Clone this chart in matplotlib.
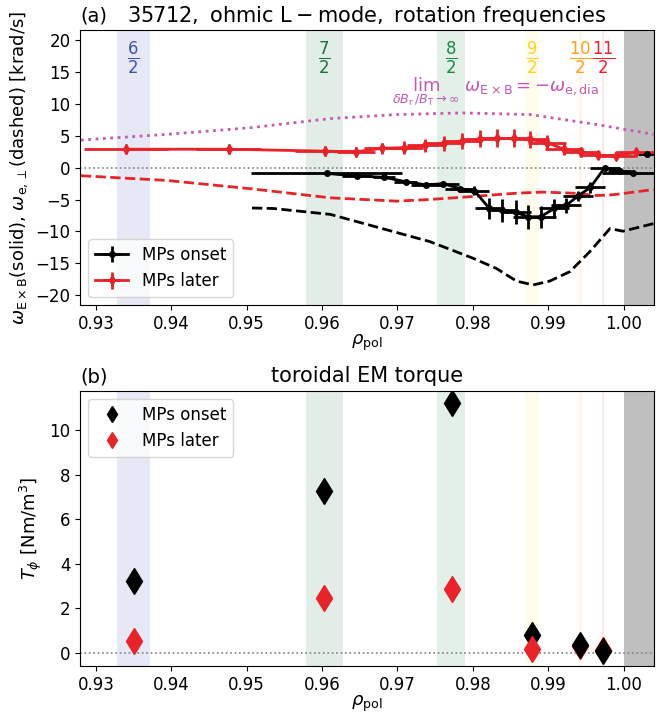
import matplotlib
matplotlib.use('Agg')
import matplotlib.pyplot as plt

# rational surfaces q = m/2: (label, rho_min, rho_max, colour)
modes = ['6', '7', '8', '9', '10', '11']
mode_lo = [0.9328, 0.9578, 0.9753, 0.9869, 0.9941, 0.99714]
mode_hi = [0.9372, 0.9628, 0.9790, 0.9888, 0.99448, 0.99742]
mode_col = ['#3f51b5', '#1b6e3a', '#1a8a44', '#ffd21a', '#ffa020', '#ee2030']
mode_alpha = [0.13, 0.12, 0.12, 0.08, 0.1, 0.1]

# (a) E x B rotation, MPs onset
rho_on = [0.9606, 0.9646, 0.9682, 0.9711, 0.9738, 0.9761, 0.9783, 0.9802, 0.9822, 0.9839,
          0.9857, 0.9873, 0.9890, 0.9908, 0.9924, 0.9940, 0.9956, 0.9975, 0.9995, 1.0012]
w_on = [-0.9, -1.3, -1.5, -2.2, -2.7, -2.5, -3.3, -3.6, -6.4, -6.7,
        -7.0, -7.7, -7.7, -6.4, -5.9, -4.4, -3.1, 0.0, -0.5, -0.8]
xerr_on = [0.010, 0.002, 0.0015, 0.0015, 0.002, 0.002, 0.002, 0.002, 0.0019, 0.002,
           0.002, 0.002, 0.002, 0.002, 0.002, 0.002, 0.002, 0.002, 0.0015, 0.004]
yerr_on = [0.3, 0.3, 0.3, 0.3, 0.4, 0.3, 0.3, 0.65, 1.7, 1.8,
           1.9, 1.9, 1.7, 1.55, 1.2, 0.8, 0.8, 0.3, 0.3, 0.3]
rho_on_edge = [1.0031]
w_on_edge = [2.2]

# (a) E x B rotation, MPs later
rho_la = [0.9340, 0.9476, 0.9604, 0.9645, 0.9680, 0.9709, 0.9737, 0.9762, 0.9786, 0.9810,
          0.9832, 0.9854, 0.9876, 0.9898, 0.9921, 0.9944, 0.9966, 0.9990, 1.0016]
w_la = [2.9, 2.9, 2.6, 2.5, 3.05, 3.15, 3.5, 3.8, 4.2, 4.55,
        4.6, 4.6, 4.45, 3.95, 2.9, 2.5, 1.95, 1.85, 2.4]
xerr_la = [0.0056, 0.0043, 0.004, 0.0025, 0.0025, 0.0025, 0.0025, 0.0025, 0.0025, 0.0025,
           0.0025, 0.0025, 0.0025, 0.0025, 0.0025, 0.0025, 0.0025, 0.0025, 0.0025]
yerr_la = [0.8, 0.8, 0.8, 0.8, 0.9, 1.0, 1.0, 1.2, 1.2, 1.3,
           1.4, 1.4, 1.3, 1.2, 0.9, 0.8, 0.6, 0.6, 0.6]

# perpendicular electron rotation (dashed) and diamagnetic limit (dotted)
rho_perp_on = [0.9507, 0.9535, 0.9611, 0.9743, 0.9800, 0.9831, 0.9858, 0.9880, 0.9902,
               0.9929, 0.9955, 0.9982, 0.9999, 1.0040]
w_perp_on = [-6.33, -6.4, -7.33, -11.6, -14.2, -15.8, -17.8, -18.4, -17.8,
             -16.3, -13.2, -9.55, -9.97, -8.77]
rho_perp_la = [0.9280, 0.9394, 0.9505, 0.9611, 0.9699, 0.9743, 0.9800, 0.9858, 0.9893,
               0.9933, 0.9964, 0.9986, 1.0040]
w_perp_la = [-1.26, -2.0, -3.3, -4.73, -5.25, -4.99, -4.52, -4.0, -3.83,
             -4.0, -4.37, -4.25, -3.43]
rho_dia = [0.9280, 0.9394, 0.9505, 0.9611, 0.9699, 0.9787, 0.9876, 0.9964, 1.0040]
w_dia = [4.34, 5.23, 6.27, 7.71, 8.34, 8.6, 8.34, 6.78, 5.23]

# (b) toroidal EM torque at the rational surfaces
rho_tq = [0.9350, 0.9603, 0.9772, 0.9879, 0.9942, 0.9973]
tq_on = [3.22, 7.25, 11.2, 0.79, 0.34, 0.08]
tq_la = [0.55, 2.48, 2.88, 0.19, 0.30, 0.14]

red = '#e8232a'
purple = '#c45ab3'

fig, (ax1, ax2) = plt.subplots(2, 1, figsize=(6.57, 7.16), dpi=100)
fig.subplots_adjust(left=0.122, right=0.995, top=0.958, bottom=0.07, hspace=0.31)

for ax in (ax1, ax2):
    for lo, hi, c, a in zip(mode_lo, mode_hi, mode_col, mode_alpha):
        ax.axvspan(lo, hi, color=c, alpha=a, lw=0)
    ax.axvspan(1.0, 1.01, color='grey', alpha=0.5, lw=0)
    ax.axhline(0, color='grey', ls=':', lw=1.2)
    ax.set_xlim(0.9279, 1.004)
    ax.set_xlabel(r'$\rho_\mathrm{pol}$', fontsize=13, labelpad=0)
    ax.tick_params(labelsize=12)

# panel (a)
ax1.plot(rho_perp_la, w_perp_la, color=red, ls='--', lw=2)
ax1.plot(rho_perp_on, w_perp_on, color='k', ls='--', lw=2)
ax1.plot(rho_dia, w_dia, color=purple, ls=':', lw=2)
ax1.errorbar(rho_on, w_on, xerr=xerr_on, yerr=yerr_on, fmt='-o', color='k',
             ms=4, lw=2, elinewidth=2, label='MPs onset')
ax1.errorbar(rho_on_edge, w_on_edge, xerr=[0.0012], yerr=[0.3], fmt='o', color='k',
             ms=4, elinewidth=2)
ax1.errorbar(rho_la, w_la, xerr=xerr_la, yerr=yerr_la, fmt='-d', color=red,
             ms=5, lw=2, elinewidth=2, label='MPs later')
for m, lo, hi, c in zip(modes, mode_lo, mode_hi, mode_col):
    ax1.text((lo + hi) / 2, 17.2, r'$\frac{%s}{2}$' % m, color=c, fontsize=17,
             ha='center', va='center')
ax1.text(0.9830, 11.9,
         r'$\lim_{\delta B_\mathrm{r}/B_\mathrm{T}\to\infty}\ \omega_\mathrm{E\times B} = -\omega_\mathrm{e,dia}$',
         color=purple, fontsize=13, ha='center', va='center')
ax1.set_ylim(-21.6, 21.6)
ax1.set_yticks([-20, -15, -10, -5, 0, 5, 10, 15, 20])
ax1.set_ylabel(r'$\omega_\mathrm{E\times B}$(solid), $\omega_\mathrm{e,\perp}$(dashed) [krad/s]', fontsize=13)
ax1.set_title('(a)', loc='left', fontsize=14)
ax1.set_title(r'$35712,\ \mathrm{ohmic\ L-mode,\ rotation\ frequencies}$', fontsize=15)
ax1.legend(loc='lower left', fontsize=12)

# panel (b)
ax2.plot(rho_tq[:4], tq_on[:4], 'd', color='k', ms=13, label='MPs onset')
ax2.plot(rho_tq, tq_la, 'd', color=red, ms=13, label='MPs later')
ax2.plot(rho_tq[4:], tq_on[4:], 'd', color='k', ms=13)
ax2.set_ylim(-0.58, 11.76)
ax2.set_yticks([0, 2, 4, 6, 8, 10])
ax2.set_ylabel(r'$T_\phi$ [Nm/m$^3$]', fontsize=13)
ax2.set_title('(b)', loc='left', fontsize=14)
ax2.set_title('toroidal EM torque', fontsize=15)
ax2.legend(loc='upper left', fontsize=12, markerscale=0.6)

fig.savefig('out.png')
